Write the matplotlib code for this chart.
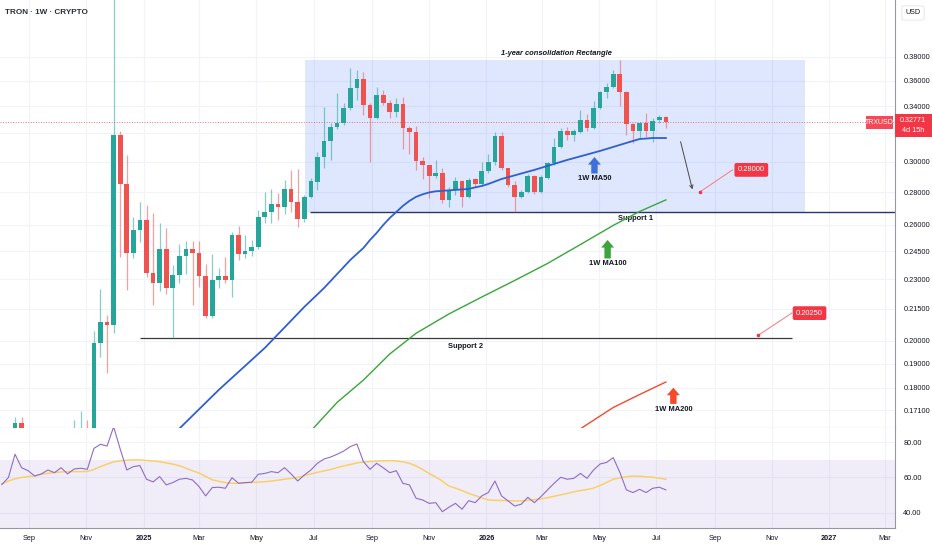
import matplotlib
matplotlib.use('Agg')
import matplotlib.pyplot as plt
import matplotlib.dates as mdates
from matplotlib.patches import Rectangle
from matplotlib.ticker import FixedLocator, FuncFormatter, NullLocator
import numpy as np
import pandas as pd

plt.rcParams['font.family'] = ['Liberation Sans', 'DejaVu Sans']

# weekly candles, TRX/USD
weeks = pd.date_range('2024-08-03', periods=102, freq='7D')

opens = [0.128, 0.130, 0.147, 0.1662, 0.160, 0.152, 0.154, 0.152, 0.156, 0.155, 0.158, 0.160, 0.162, 0.163,
         0.1580, 0.1991, 0.2088, 0.2073, 0.3186, 0.2852, 0.2440, 0.2570, 0.2629, 0.2332, 0.2280, 0.2463,
         0.2254, 0.2322, 0.2424, 0.2463, 0.2440, 0.2317, 0.2116, 0.2296, 0.2317, 0.2296, 0.2541, 0.2435,
         0.2451, 0.2474, 0.2647, 0.2677, 0.2726, 0.2708, 0.2820, 0.2739, 0.2635, 0.2770, 0.2866, 0.3031,
         0.3143, 0.3244, 0.3274, 0.3386, 0.3543, 0.3615, 0.3409, 0.3311, 0.3487, 0.3425, 0.3356, 0.3417,
         0.3237, 0.3207, 0.3004, 0.2977, 0.2904, 0.2924, 0.2751, 0.2814, 0.2872, 0.2770, 0.2884, 0.2852,
         0.2937, 0.2998, 0.3179, 0.2957, 0.2846, 0.2770, 0.2801, 0.2904, 0.2801, 0.2891, 0.2991, 0.3101,
         0.3215, 0.3186, 0.3207, 0.3296, 0.3237, 0.3386, 0.3511, 0.3551, 0.3657, 0.3511, 0.3266, 0.3215,
         0.3274, 0.3215, 0.3296, 0.3318]
highs = [0.135, 0.150, 0.1686, 0.1686, 0.163, 0.158, 0.157, 0.158, 0.160, 0.160, 0.162, 0.1672, 0.1706, 0.1672,
         0.2045, 0.2249, 0.2121, 0.4490, 0.3215, 0.3045, 0.2647, 0.2739, 0.2720, 0.2671, 0.2611, 0.2582,
         0.2375, 0.2490, 0.2507, 0.2507, 0.2507, 0.2380, 0.2435, 0.2359, 0.2418, 0.2558, 0.2593, 0.2541,
         0.2513, 0.2689, 0.2801, 0.2820, 0.2795, 0.2878, 0.2944, 0.2951, 0.2783, 0.2891, 0.3066, 0.3394,
         0.3274, 0.3503, 0.3425, 0.3707, 0.3690, 0.3674, 0.3425, 0.3551, 0.3527, 0.3448, 0.3464, 0.3472,
         0.3252, 0.3252, 0.3031, 0.2980, 0.3011, 0.2957, 0.2833, 0.2897, 0.2878, 0.2891, 0.2891, 0.2998,
         0.3052, 0.3207, 0.3207, 0.2960, 0.2872, 0.2814, 0.2917, 0.2911, 0.2911, 0.2998, 0.3164, 0.3237,
         0.3244, 0.3230, 0.3371, 0.3341, 0.3441, 0.3519, 0.3583, 0.3690, 0.3774, 0.3519, 0.3274, 0.3281,
         0.3348, 0.3311, 0.3333, 0.3326]
lows = [0.120, 0.128, 0.145, 0.155, 0.150, 0.149, 0.150, 0.150, 0.152, 0.153, 0.156, 0.158, 0.158, 0.155,
        0.1550, 0.1929, 0.1860, 0.2036, 0.2418, 0.2244, 0.2413, 0.2502, 0.2311, 0.2169, 0.2239, 0.2224,
        0.2014, 0.2280, 0.2327, 0.2169, 0.2259, 0.2107, 0.2107, 0.2254, 0.2280, 0.2209, 0.2402, 0.2413,
        0.2424, 0.2463, 0.2611, 0.2611, 0.2629, 0.2665, 0.2677, 0.2587, 0.2617, 0.2764, 0.2814, 0.2957,
        0.3011, 0.3230, 0.3259, 0.3371, 0.3448, 0.3333, 0.2998, 0.3303, 0.3409, 0.3311, 0.3318, 0.3087,
        0.3052, 0.2944, 0.2884, 0.2764, 0.2891, 0.2732, 0.2708, 0.2783, 0.2708, 0.2764, 0.2833, 0.2839,
        0.2924, 0.2977, 0.2944, 0.2833, 0.2677, 0.2764, 0.2795, 0.2789, 0.2795, 0.2884, 0.2980, 0.3094,
        0.3150, 0.3143, 0.3200, 0.3215, 0.3230, 0.3378, 0.3464, 0.3543, 0.3402, 0.3186, 0.3129, 0.3164,
        0.3171, 0.3136, 0.3274, 0.3237]
closes = [0.130, 0.147, 0.1662, 0.160, 0.152, 0.154, 0.152, 0.156, 0.155, 0.158, 0.160, 0.162, 0.163, 0.158,
          0.1991, 0.2088, 0.2073, 0.3186, 0.2852, 0.2440, 0.2570, 0.2629, 0.2332, 0.2280, 0.2463, 0.2254,
          0.2322, 0.2424, 0.2463, 0.2440, 0.2317, 0.2116, 0.2296, 0.2317, 0.2296, 0.2541, 0.2435, 0.2451,
          0.2474, 0.2647, 0.2677, 0.2726, 0.2708, 0.2820, 0.2739, 0.2635, 0.2770, 0.2872, 0.3031, 0.3143,
          0.3244, 0.3274, 0.3386, 0.3543, 0.3615, 0.3409, 0.3311, 0.3487, 0.3425, 0.3356, 0.3417, 0.3237,
          0.3207, 0.3004, 0.2977, 0.2904, 0.2924, 0.2751, 0.2814, 0.2872, 0.2770, 0.2878, 0.2852, 0.2937,
          0.2998, 0.3179, 0.2957, 0.2846, 0.2770, 0.2801, 0.2904, 0.2801, 0.2897, 0.2991, 0.3101, 0.3215,
          0.3186, 0.3215, 0.3296, 0.3237, 0.3386, 0.3511, 0.3551, 0.3657, 0.3511, 0.3266, 0.3215, 0.3274,
          0.3215, 0.3289, 0.3318, 0.32771]

rsi = [56.0, 60.0, 73.1, 65.5, 63.8, 60.8, 62.0, 64.2, 62.7, 65.5, 62.0, 64.8, 65.2, 64.6,
       76.4, 78.7, 77.7, 88.6, 76.0, 64.2, 66.1, 66.7, 59.0, 57.5, 60.5, 55.8, 57.1, 59.0, 59.5, 58.6,
       54.8, 49.6, 54.3, 54.5, 53.9, 59.9, 56.7, 57.1, 57.3, 61.8, 62.3, 63.3, 62.7, 65.5, 62.0, 58.0,
       61.4, 64.2, 68.0, 70.4, 71.5, 73.1, 74.9, 77.4, 78.9, 68.9, 64.6, 68.0, 65.5, 62.7, 63.8, 56.7,
       55.8, 48.3, 47.3, 45.4, 45.8, 40.7, 43.2, 45.4, 42.1, 46.9, 45.8, 49.6, 51.5, 58.0, 49.6, 46.8,
       43.9, 44.9, 48.8, 45.8, 49.2, 53.0, 56.7, 60.1, 59.0, 59.5, 62.3, 59.5, 64.2, 67.6, 68.5, 71.2,
       62.9, 53.0, 51.5, 53.3, 51.5, 53.9, 54.5, 53.0]
rsi_ma = [56.5, 58.0, 59.2, 60.0, 60.5, 61.0, 61.8, 62.3, 62.8, 63.1, 63.3, 63.3, 63.3, 63.4,
          64.5, 66.1, 67.5, 68.8, 69.4, 69.7, 69.9, 69.9, 69.6, 69.3, 68.9, 68.2, 67.5, 66.6, 65.2, 63.8,
          62.5, 60.6, 58.7, 57.8, 57.1, 56.7, 56.8, 57.0, 57.2, 57.4, 57.6, 58.0, 58.5, 59.0, 59.5, 60.0,
          61.0, 62.0, 62.9, 63.7, 64.5, 65.6, 66.5, 67.3, 68.2, 68.7, 69.0, 69.2, 69.4, 69.5, 69.3, 68.8,
          68.0, 66.5, 64.5, 62.2, 60.3, 57.9, 55.2, 54.0, 52.6, 51.0, 49.8, 48.5, 47.3, 47.1, 47.0, 46.9,
          46.8, 46.8, 47.1, 47.5, 47.9, 48.6, 49.4, 50.2, 51.0, 51.9, 52.6, 53.2, 54.0, 55.5, 57.2, 59.0,
          59.8, 60.4, 60.8, 60.7, 60.4, 60.1, 59.6, 59.0]

# moving averages (week index into `weeks`, value)
ma50_weeks = [26, 33, 40, 46, 49, 51, 52, 53, 54, 55, 56, 57, 58, 59, 60, 61, 62, 63, 64, 65, 66, 67,
              68, 69, 70, 71, 72, 73, 74, 75, 76, 81, 86, 91, 94, 96, 97, 98, 99, 100, 101]
ma50 = [0.1617, 0.1791, 0.1969, 0.2160, 0.2254, 0.2327, 0.2364, 0.2402, 0.2435, 0.2468, 0.2513,
        0.2553, 0.2599, 0.2641, 0.2677, 0.2714, 0.2745, 0.2770, 0.2786, 0.2798, 0.2805, 0.2808,
        0.2811, 0.2814, 0.2817, 0.2820, 0.2830, 0.2839, 0.2852, 0.2868, 0.2884, 0.2944, 0.3011,
        0.3073, 0.3115, 0.3143, 0.3157, 0.3160, 0.3164, 0.3164, 0.3164]
ma100_weeks = [47, 51, 55, 59, 63, 68, 73, 78, 83, 88, 93, 97, 101]
ma100 = [0.1632, 0.1741, 0.1831, 0.1942, 0.2035, 0.2126, 0.2209, 0.2293, 0.2383, 0.2487, 0.2597,
         0.2680, 0.2751]
ma200_weeks = [88, 93, 97, 101]
ma200 = [0.1640, 0.1721, 0.1772, 0.1823]

last_price = 0.32771
support1 = 0.2677
support2 = 0.2014
rect_top = 0.3774
target1 = 0.28
target2 = 0.2025

price_ticks = [0.38, 0.36, 0.34, 0.32, 0.30, 0.28, 0.26, 0.245, 0.23, 0.215, 0.20, 0.19, 0.18, 0.171]
hidden_ticks = [0.32]  # sits under the last-price label
rsi_ticks = [40, 60, 80]
tick_dates = pd.date_range('2024-09-01', '2027-03-01', freq='2MS')

W, H = 932, 550
fig = plt.figure(figsize=(W / 100, H / 100), dpi=100)
ax = fig.add_axes([0, 1 - 428 / H, 895 / W, 428 / H])
ax_r = fig.add_axes([0, 1 - 528 / H, 895 / W, 100 / H], sharex=ax)

d = lambda s: mdates.date2num(pd.Timestamp(s))
x = mdates.date2num(weeks)
o, h, l, c = map(np.array, (opens, highs, lows, closes))
up = c >= o
green, red = '#26a69a', '#ef5350'
body_col = np.where(up, green, red)

grid_c = '#f0f3fa'
for a in (ax, ax_r):
    a.set_facecolor('white')
    a.grid(True, color=grid_c, lw=0.8, zorder=0)
    a.set_axisbelow(True)
    for s in ('top', 'left'):
        a.spines[s].set_visible(False)
    a.spines['right'].set_color('#9598a1')
    a.spines['bottom'].set_color('#9598a1')
    a.yaxis.tick_right()
    a.tick_params(axis='both', length=0, labelsize=5.3, labelcolor='#131722')
    a.tick_params(axis='y', pad=6)


def price_fmt(v, p):
    if any(abs(v - t) < 1e-9 for t in hidden_ticks):
        return ''
    return f'{v:.5f}'


# main price pane
ax.set_yscale('log')
ax.set_ylim(0.1643, 0.4322)
ax.set_xlim(d('2024-08-01'), d('2027-03-12'))
ax.yaxis.set_major_locator(FixedLocator(price_ticks))
ax.yaxis.set_major_formatter(FuncFormatter(price_fmt))
ax.yaxis.set_minor_locator(NullLocator())
ax.yaxis.set_minor_formatter(FuncFormatter(lambda v, p: ''))

ax.add_patch(Rectangle((d('2025-06-22'), support1), d('2026-12-06') - d('2025-06-22'),
                       rect_top - support1, facecolor='#2962ff', alpha=0.15, lw=0, zorder=1))

ax.vlines(x, l, h, colors=body_col, lw=0.9, alpha=0.55, zorder=3)
ax.bar(x, np.abs(c - o), width=5.0, bottom=np.minimum(o, c), color=body_col, lw=0, zorder=4)

ax.plot(x[ma50_weeks], ma50, color='#2f5fd0', lw=1.3, zorder=5, solid_joinstyle='round')
ax.plot(x[ma100_weeks], ma100, color='#3aa53a', lw=1.0, zorder=5, solid_joinstyle='round')
ax.plot(x[ma200_weeks], ma200, color='#f44a2c', lw=1.0, zorder=5, solid_joinstyle='round')

ax.axhline(last_price, color='#f23645', lw=0.7, ls=(0, (1, 1.6)), alpha=0.7, zorder=2)
ax.hlines(support1, d('2025-06-27'), d('2027-03-12'), color='#2a3566', lw=1.0, zorder=2)
ax.hlines(support2, d('2024-12-28'), d('2026-11-22'), color='#3a3a3a', lw=0.9, zorder=2)

txt = dict(fontsize=5.4, color='#131722', ha='center', va='center', fontweight='bold')
ax.text(d('2026-03-16'), 0.3834, '1-year consolidation Rectangle', style='italic', **txt)
ax.text(d('2026-06-09'), 0.2635, 'Support 1', **txt)
ax.text(d('2025-12-10'), 0.1974, 'Support 2', **txt)
ax.text(d('2026-04-26'), 0.2885, '1W MA50', **txt)
ax.text(d('2026-05-10'), 0.2384, '1W MA100', **txt)
ax.text(d('2026-07-19'), 0.1715, '1W MA200', **txt)

fat = 'simple,head_width=0.85,head_length=0.5,tail_width=0.42'
for dt, tip, base, col in (('2026-04-26', 0.3031, 0.2920, '#3d6fd9'),
                           ('2026-05-10', 0.2513, 0.2410, '#3aa53a'),
                           ('2026-07-19', 0.1800, 0.1735, '#f44a2c')):
    ax.annotate('', xy=(d(dt), tip), xytext=(d(dt), base),
                arrowprops=dict(arrowstyle=fat, color=col, lw=0, mutation_scale=11,
                                shrinkA=0, shrinkB=0))

ax.annotate('', xy=(d('2026-08-09'), target1), xytext=(d('2026-07-26'), 0.3157),
            arrowprops=dict(arrowstyle='->', color='#4a4a4a', lw=0.7, mutation_scale=6))

box = dict(boxstyle='round,pad=0.45,rounding_size=0.25', fc='#f23645', ec='none')
for pt_dt, pt_v, ln_dt, lb_dt, lb_v, lbl in (('2026-08-16', target1, '2026-09-20', '2026-10-10', 0.2944, '0.28000'),
                                             ('2026-10-17', target2, '2026-11-22', '2026-12-11', 0.2130, '0.20250')):
    ax.plot([d(pt_dt), d(ln_dt)], [pt_v, lb_v], color='#f7797d', lw=0.7, zorder=6)
    ax.plot(d(pt_dt), pt_v, 'o', color='#f23645', ms=1.6, zorder=7)
    ax.text(d(lb_dt), lb_v, lbl, fontsize=5.4, color='white', ha='center', va='center', bbox=box, zorder=8)

ax.text(0.006, 0.970, 'TRON · 1W · CRYPTO', transform=ax.transAxes, fontsize=5.9,
        color='#2a2e39', ha='left', va='center', fontweight='bold')
ax.tick_params(axis='x', labelbottom=False)

# RSI pane
ax_r.axhspan(30, 70, color='#7e57c2', alpha=0.1, lw=0, zorder=1)
ax_r.plot(x, rsi, color='#8e6cc6', lw=0.8, zorder=3)
ax_r.plot(x, rsi_ma, color='#f8d06a', lw=1.1, zorder=2)
ax_r.set_ylim(31.5, 87.9)
ax_r.yaxis.set_major_locator(FixedLocator(rsi_ticks))
ax_r.yaxis.set_major_formatter(FuncFormatter(lambda v, p: f'{v:.2f}'))
ax_r.set_xticks(mdates.date2num(tick_dates))
ax_r.set_xticklabels([str(t.year) if t.month == 1 else t.strftime('%b') for t in tick_dates])
for lab, t in zip(ax_r.get_xticklabels(), tick_dates):
    if t.month == 1:
        lab.set_fontweight('bold')
ax_r.tick_params(axis='x', pad=5)

# price labels on the right axis
fig.patches.append(Rectangle((866 / W, 1 - 129 / H), 27 / W, 13 / H, transform=fig.transFigure,
                             fc='#f23645', ec='none', alpha=0.9))
fig.text(879.5 / W, 1 - 122.5 / H, 'TRXUSD', fontsize=5.0, color='white', ha='center', va='center')
fig.patches.append(Rectangle((895 / W, 1 - 137 / H), 37 / W, 23 / H, transform=fig.transFigure,
                             fc='#f23645', ec='none'))
fig.text(913 / W, 1 - 120 / H, f'{last_price:.5f}', fontsize=5.2, color='white', ha='center', va='center')
fig.text(913 / W, 1 - 131 / H, '4d 15h', fontsize=5.2, color='white', ha='center', va='center')
fig.text(913 / W, 1 - 13 / H, 'USD', fontsize=5.2, color='#131722', ha='center', va='center',
         bbox=dict(boxstyle='round,pad=0.5,rounding_size=0.3', fc='white', ec='#e0e3eb', lw=0.6))

fig.savefig('out.png', dpi=100)
